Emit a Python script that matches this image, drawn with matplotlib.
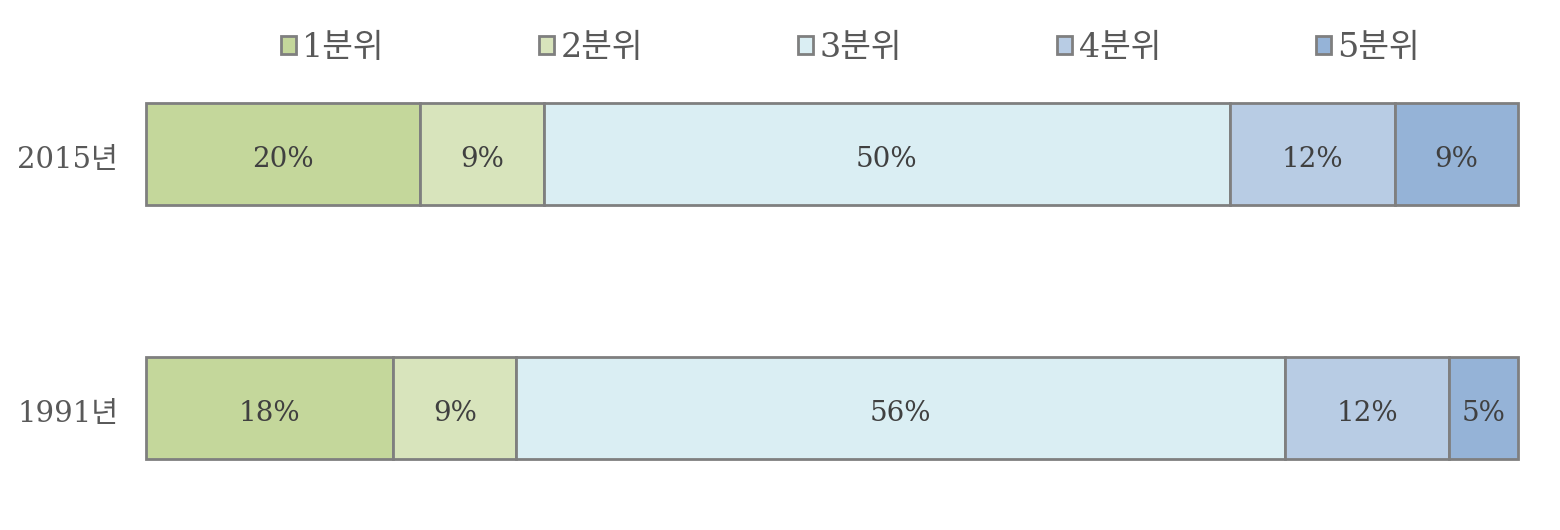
import matplotlib.pyplot as plt
import numpy as np

plt.rcParams['font.family'] = ['DejaVu Serif', 'Noto Sans CJK KR']

# 데이터
연도 = ['1991년', '2015년']
분위 = ['1분위', '2분위', '3분위', '4분위', '5분위']
값_1991 = [18, 9, 56, 12, 5]
값_2015 = [20, 9, 50, 12, 9]
색상 = ['#C4D79B', '#D8E4BC', '#DAEEF3', '#B8CCE4', '#95B3D7']

데이터 = np.array([값_1991, 값_2015])
y = np.arange(len(연도))

fig = plt.figure(figsize=(15.6, 5.3), dpi=100)
ax = fig.add_axes([146 / 1560, 0, (1518 - 146) / 1560, 1])

왼쪽 = np.zeros(len(연도))
for i, 이름 in enumerate(분위):
    막대 = ax.barh(y, 데이터[:, i], left=왼쪽, height=0.4, color=색상[i],
                 edgecolor='#7F7F7F', linewidth=2, label=이름, clip_on=False)
    for j in range(len(연도)):
        ax.text(왼쪽[j] + 데이터[j, i] / 2, y[j] - 0.02, f'{데이터[j, i]}%',
                ha='center', va='center', fontsize=20, color='#404040')
    왼쪽 += 데이터[:, i]

ax.set_xlim(0, 100)
ax.set_ylim(-0.480, 1.606)
ax.set_yticks(y - 0.01)
ax.set_yticklabels(연도, fontsize=21, color='#595959')
ax.tick_params(axis='y', length=0, pad=20)
ax.set_xticks([])
for s in ax.spines.values():
    s.set_visible(False)

ax.legend(loc='center', bbox_to_anchor=(0.5134, 1 - 48 / 530), ncol=5, frameon=False,
          fontsize=24, handlelength=0.45, handleheight=0.45, handletextpad=0.2,
          columnspacing=4.64, labelcolor='#595959')

fig.savefig('out.png', dpi=100)
